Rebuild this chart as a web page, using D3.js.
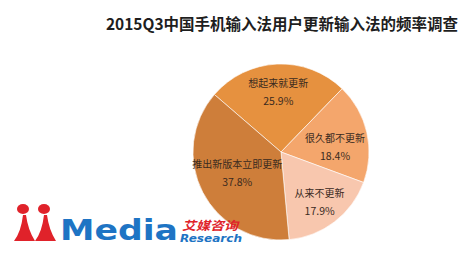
<!DOCTYPE html>
<html>
<head>
<meta charset="utf-8">
<script src="https://cdn.jsdelivr.net/npm/d3@7"></script>
<style>
  body { margin: 0; background: #fff; }
  svg { display: block; }
  text { font-family: "Noto Sans CJK SC", "Noto Sans", sans-serif; }
</style>
</head>
<body>
<svg width="474" height="264"></svg>
<script>
const title = '2015Q3中国手机输入法用户更新输入法的频率调查'
const categories = ['想起来就更新', '很久都不更新', '从来不更新', '推出新版本立即更新']
const values = [25.9, 18.4, 17.9, 37.8]
const colors = ['#e6913f', '#f4a66c', '#f8c7ae', '#ce7e3a']

const svg = d3.select('svg')
const width = +svg.attr('width')
const height = +svg.attr('height')

svg.append('rect').attr('width', width).attr('height', height).attr('fill', '#fff')

// title
svg.append('text')
  .attr('x', 282)
  .attr('y', 30)
  .attr('text-anchor', 'middle')
  .style('font-size', '15.5px')
  .style('font-weight', 'bold')
  .style('fill', '#1e1e1e')
  .text(title)

const cx = 281, cy = 152, radius = 88
// how far out each label sits (share of radius) and a small vertical nudge
const labelPos = [0.68, 0.63, 0.72, 0.56]
const labelNudge = [0, 7, 0, -2]

const data = categories.map((c, i) => ({ name: c, value: values[i] }))

const pie = d3.pie()
  .sort(null)
  .value(d => d.value)
  .startAngle(-0.859)
  .endAngle(-0.859 + Math.PI * 2)

const arc = d3.arc().innerRadius(0).outerRadius(radius)
const labelArc = (d, i) => d3.arc()
  .innerRadius(radius * labelPos[i])
  .outerRadius(radius * labelPos[i])
  .centroid(d)

const g = svg.append('g').attr('transform', `translate(${cx}, ${cy})`)

const arcs = pie(data)

g.selectAll('path').data(arcs)
  .enter().append('path')
  .attr('d', arc)
  .attr('fill', (d, i) => colors[i])
  .attr('stroke', 'rgba(255,255,255,0.6)')
  .attr('stroke-width', 1)

const labels = g.selectAll('g.label').data(arcs)
  .enter().append('g')
  .attr('class', 'label')
  .attr('transform', (d, i) => {
    const [x, y] = labelArc(d, i)
    return `translate(${x}, ${y + labelNudge[i]})`
  })

labels.append('text')
  .attr('y', -5)
  .attr('text-anchor', 'middle')
  .style('font-size', '10px')
  .style('fill', '#3a2a1e')
  .text(d => d.data.name)

labels.append('text')
  .attr('y', 13)
  .attr('text-anchor', 'middle')
  .style('font-size', '10.5px')
  .style('fill', '#3a2a1e')
  .text(d => d.data.value.toFixed(1) + '%')

// iiMedia logo
const logo = svg.append('g')
const red = '#e0222a'
const blue = '#1e74c4'
;[23, 44].forEach(x => {
  logo.append('ellipse')
    .attr('cx', x).attr('cy', 209)
    .attr('rx', 6).attr('ry', 5)
    .attr('fill', red)
  logo.append('path')
    .attr('d', `M${x} 215 Q${x - 2} 232 ${x - 9} 241 L${x + 12} 241 Q${x + 5} 230 ${x + 3} 215 Z`)
    .attr('fill', red)
})

logo.append('text')
  .attr('x', 60)
  .attr('y', 240)
  .attr('textLength', 118)
  .attr('lengthAdjust', 'spacingAndGlyphs')
  .style('font-family', '"DejaVu Sans", sans-serif')
  .style('font-weight', 'bold')
  .style('font-size', '28px')
  .style('fill', blue)
  .text('Media')

logo.append('text')
  .attr('x', 182)
  .attr('y', 230)
  .attr('textLength', 56)
  .attr('lengthAdjust', 'spacingAndGlyphs')
  .style('font-weight', 'bold')
  .style('font-style', 'italic')
  .style('font-size', '12px')
  .style('fill', red)
  .text('艾媒咨询')

logo.append('text')
  .attr('x', 180)
  .attr('y', 242)
  .attr('textLength', 62)
  .attr('lengthAdjust', 'spacingAndGlyphs')
  .style('font-family', '"DejaVu Sans", sans-serif')
  .style('font-weight', 'bold')
  .style('font-style', 'italic')
  .style('font-size', '11px')
  .style('fill', blue)
  .text('Research')
</script>
</body>
</html>
